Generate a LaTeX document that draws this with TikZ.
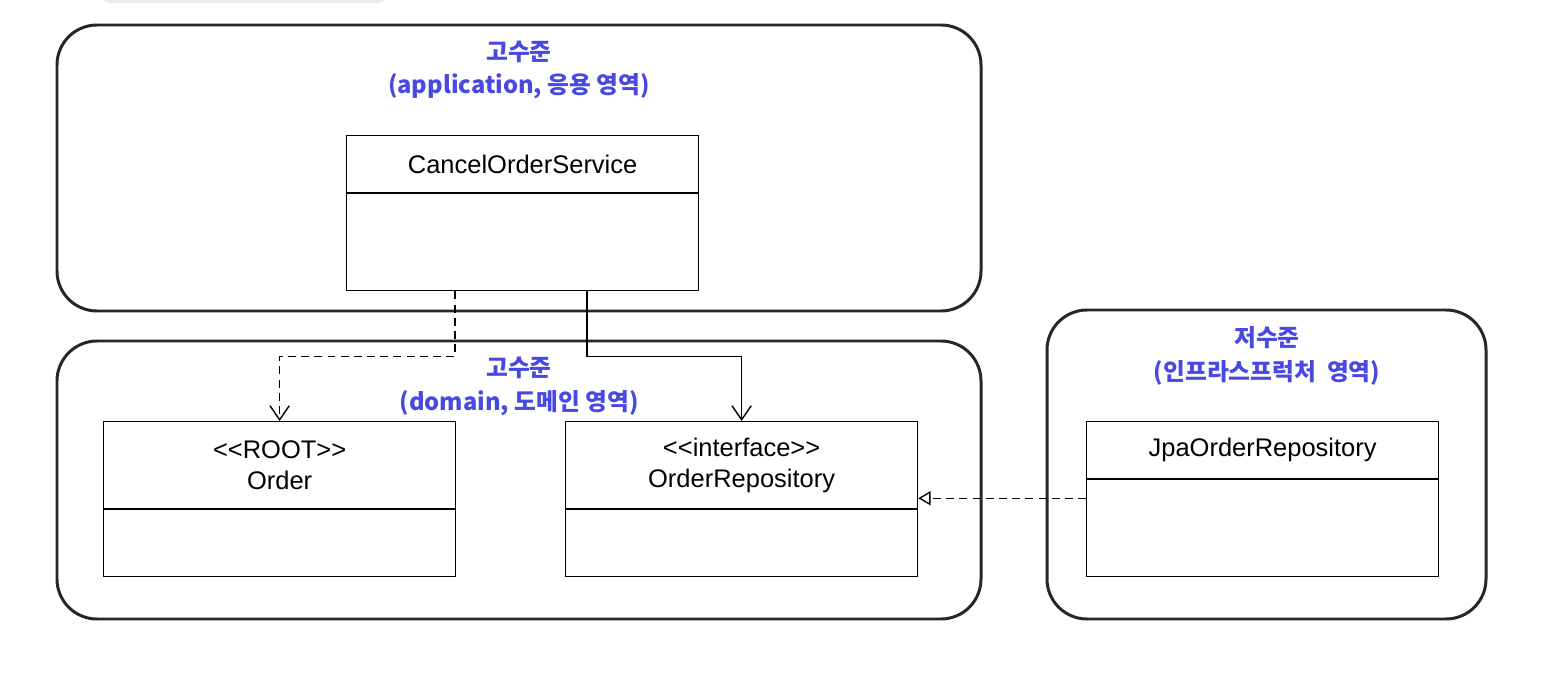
\documentclass[tikz,border=0pt]{standalone}
\usepackage{fontspec}
\usepackage{tikz}
\usetikzlibrary{positioning,arrows.meta}
\newfontfamily\umlfont{Liberation Sans}
\newfontfamily\krfont{Noto Sans CJK KR}
\definecolor{titleblue}{RGB}{72,72,226}
\tikzset{
	layerbox/.style={line width=1.7pt,draw=black!85,rounded corners=0.8cm},
	layertitle/.style={text=titleblue,align=center,font=\krfont\bfseries\fontsize{13.5}{19.3}\selectfont},
	classhead/.style={draw,line width=0.7pt,minimum width=7.04cm,inner sep=0pt,align=center,anchor=north west,font=\umlfont\fontsize{14.5}{17.6}\selectfont},
	classbody/.style={draw,line width=0.7pt,minimum width=7.04cm,inner sep=0pt},
	dep/.style={line width=0.8pt,-{Straight Barb[length=8pt,width=11pt]}},
	dashes/.style={dash pattern=on 4.5pt off 3pt},
	real/.style={line width=0.8pt,dashes,-{Triangle[open,length=7pt,width=8pt]}}
}

\begin{document}
\begin{tikzpicture}
	\useasboundingbox (0,0) rectangle (30.92,-13.6);
	\fill[black!8,rounded corners=0.2cm] (2,0.4) rectangle (7.76,-0.06);
	% layers
	\draw[layerbox] (1.14,-0.5) rectangle (19.62,-6.22);
	\draw[layerbox] (1.14,-6.82) rectangle (19.62,-12.38);
	\draw[layerbox] (20.94,-6.2) rectangle (29.72,-12.38);
	\node[layertitle] (apptitle) at (10.38,-1.4) {고수준\\(application, 응용 영역)};
	\node[layertitle] (domtitle) at (10.38,-7.73) {고수준\\(domain, 도메인 영역)};
	\node[layertitle] (infratitle) at (25.34,-7.12) {저수준\\(인프라스프럭처~ 영역)};
	% classes
	\node[classhead,minimum height=1.14cm] (cos) at (6.92,-2.7) {CancelOrderService};
	\node[classbody,minimum height=1.94cm,below=0pt of cos] (cosb) {};
	\node[classhead,minimum height=1.74cm] (ord) at (2.06,-8.42) {<<ROOT>>\\Order};
	\node[classbody,minimum height=1.34cm,below=0pt of ord] (ordb) {};
	\node[classhead,minimum height=1.74cm] (orep) at (11.3,-8.42) {<<interface>>\\OrderRepository};
	\node[classbody,minimum height=1.34cm,below=0pt of orep] (orepb) {};
	\node[classhead,minimum height=1.14cm] (jpa) at (21.72,-8.42) {JpaOrderRepository};
	\node[classbody,minimum height=1.94cm,below=0pt of jpa] (jpab) {};
	% relations
	\draw[dep,dashes] ([xshift=2.18cm]cosb.south west) -- ++(0,-1.3) -| (ord.north);
	\draw[dep] ([xshift=4.82cm]cosb.south west) -- ++(0,-1.3) -| (orep.north);
	\draw[real] ([yshift=-0.38cm]jpa.south west) -- ([yshift=-0.38cm]jpa.south west -| orep.east);
\end{tikzpicture}
\end{document}
